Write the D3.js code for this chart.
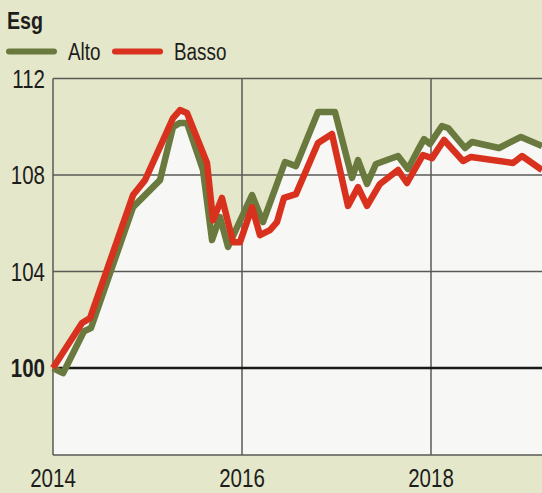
<!DOCTYPE html>
<html>
<head>
<meta charset="utf-8">
<script src="https://cdn.jsdelivr.net/npm/d3@7/dist/d3.min.js"></script>
<style>
  html, body { margin: 0; padding: 0; background: #e4e7ca; }
  svg { display: block; }
  text { font-family: "Liberation Sans", Arial, sans-serif; fill: #1d1d1b; }
</style>
</head>
<body>
<script>
// Index, base 100 at start of 2014 — high vs low ESG rating
const title = "Esg";
const seriesNames = ["Alto", "Basso"];

const altoYear = [2014.000, 2014.106, 2014.328, 2014.402, 2014.847, 2015.132, 2015.270, 2015.344, 2015.418,
  2015.587, 2015.683, 2015.767, 2015.852, 2016.106, 2016.222, 2016.455, 2016.571, 2016.804, 2016.984,
  2017.164, 2017.228, 2017.323, 2017.418, 2017.651, 2017.757, 2017.862, 2017.926, 2017.989, 2018.116,
  2018.180, 2018.360, 2018.434, 2018.720, 2018.952, 2019.175];
const altoValue = [100.00, 99.79, 101.53, 101.66, 106.67, 107.79, 109.99, 110.16, 110.16,
  108.21, 105.31, 106.26, 105.02, 107.17, 106.05, 108.54, 108.37, 110.61, 110.61,
  107.88, 108.62, 107.63, 108.46, 108.79, 108.25, 109.04, 109.49, 109.29, 110.03,
  109.95, 109.12, 109.37, 109.12, 109.58, 109.20];

const bassoYear = [2014.000, 2014.307, 2014.392, 2014.847, 2014.974, 2015.270, 2015.344, 2015.418, 2015.630,
  2015.693, 2015.788, 2015.905, 2015.979, 2016.106, 2016.190, 2016.296, 2016.370, 2016.444, 2016.571,
  2016.804, 2016.952, 2017.122, 2017.228, 2017.323, 2017.460, 2017.651, 2017.746, 2017.915, 2018.011,
  2018.138, 2018.339, 2018.423, 2018.868, 2018.963, 2019.175];
const bassoValue = [100.00, 101.87, 102.07, 107.17, 107.79, 110.36, 110.69, 110.57, 108.50,
  106.13, 107.05, 105.22, 105.22, 106.67, 105.51, 105.72, 106.05, 107.05, 107.21,
  109.33, 109.70, 106.72, 107.50, 106.72, 107.63, 108.21, 107.67, 108.83, 108.70,
  109.45, 108.58, 108.75, 108.50, 108.79, 108.21];

const yTicks = [100, 104, 108, 112];
const xTicks = [2014, 2016, 2018];

const W = 542, H = 493;
const colors = { Alto: "#6a7a3f", Basso: "#d8321e" };
const narrow = 0.82; // horizontal squeeze for a condensed look

const svg = d3.select("body").append("svg").attr("width", W).attr("height", H);

const x = d3.scaleLinear().domain([2014, 2018]).range([53, 431]);
const y = d3.scaleLinear().domain([96.4, 112]).range([455, 78.5]);
const yBottom = y.range()[0];

const alto = altoYear.map((t, i) => ({ t, v: altoValue[i] }));
const basso = bassoYear.map((t, i) => ({ t, v: bassoValue[i] }));

// places a condensed text at (px, py)
function label(sel, px, py) {
  return sel.attr("transform", (d, i) => {
    const X = typeof px === "function" ? px(d, i) : px;
    const Y = typeof py === "function" ? py(d, i) : py;
    return `translate(${X},${Y}) scale(${narrow},1)`;
  });
}

// pale fill under both curves
const area = d3.area().x(d => x(d.t)).y0(yBottom).y1(d => y(d.v));
[alto, basso].forEach(s => {
  svg.append("path").datum(s).attr("d", area).attr("fill", "#f7f7f5");
});
// below the base line the plot is pale as well
svg.append("rect")
  .attr("x", x(2014)).attr("y", y(100))
  .attr("width", W - x(2014)).attr("height", yBottom - y(100))
  .attr("fill", "#f7f7f5");

// grid
const grid = svg.append("g");
grid.selectAll("line.h").data(yTicks.filter(d => d !== 100)).join("line")
  .attr("x1", x(2014)).attr("x2", W)
  .attr("y1", d => y(d)).attr("y2", d => y(d))
  .attr("stroke", "#5a5a55").attr("stroke-width", 1.5);
grid.append("line")
  .attr("x1", x(2014)).attr("x2", W).attr("y1", yBottom).attr("y2", yBottom)
  .attr("stroke", "#5a5a55").attr("stroke-width", 1.5);
grid.selectAll("line.v").data(xTicks).join("line")
  .attr("x1", d => x(d)).attr("x2", d => x(d))
  .attr("y1", y(112)).attr("y2", yBottom)
  .attr("stroke", "#5a5a55").attr("stroke-width", 1.5);
grid.append("line")
  .attr("x1", x(2014)).attr("x2", W).attr("y1", y(100)).attr("y2", y(100))
  .attr("stroke", "#1a1a1a").attr("stroke-width", 2.5);

// series lines
const line = d3.line().x(d => x(d.t)).y(d => y(d.v));
[["Alto", alto], ["Basso", basso]].forEach(([name, s]) => {
  svg.append("path").datum(s).attr("d", line)
    .attr("fill", "none").attr("stroke", colors[name])
    .attr("stroke-width", 6.5).attr("stroke-linejoin", "round").attr("stroke-linecap", "butt");
});

// y tick labels
label(svg.selectAll("text.yt").data(yTicks).join("text"), 45, d => y(d))
  .attr("dy", "0.36em")
  .attr("text-anchor", "end")
  .attr("font-size", 25)
  .attr("font-weight", d => d === 100 ? "bold" : "normal")
  .text(d => d);

// x tick labels
label(svg.selectAll("text.xt").data(xTicks).join("text"), d => x(d), 487)
  .attr("text-anchor", "middle")
  .attr("font-size", 25)
  .text(d => d);

// title
label(svg.append("text"), 7, 29)
  .attr("font-size", 24).attr("font-weight", "bold").text(title);

// legend
const legendX = [7, 113];
seriesNames.forEach((name, i) => {
  svg.append("line")
    .attr("x1", legendX[i] + 2).attr("x2", legendX[i] + 47)
    .attr("y1", 51.5).attr("y2", 51.5)
    .attr("stroke", colors[name]).attr("stroke-width", 6).attr("stroke-linecap", "round");
  label(svg.append("text"), legendX[i] + 61, 60)
    .attr("font-size", 23).text(name);
});
</script>
</body>
</html>
